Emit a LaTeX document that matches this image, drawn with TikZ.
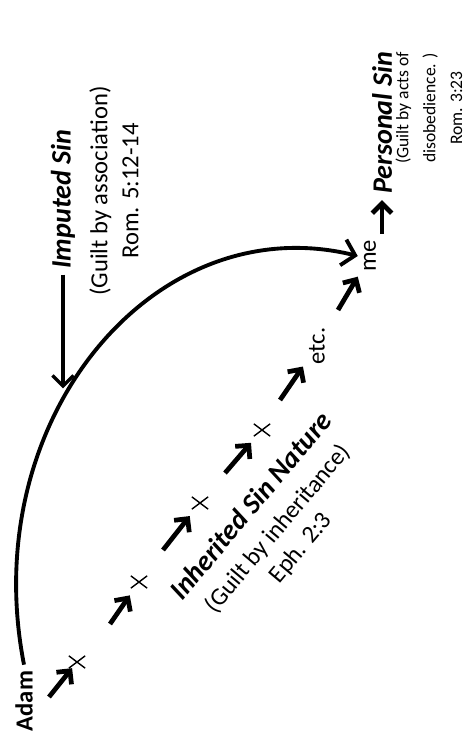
\documentclass[tikz,border=0pt]{standalone}
\usepackage{fontspec}
\setmainfont{Carlito}
\usetikzlibrary{arrows.meta,shapes.misc}

\begin{document}
\begin{tikzpicture}[x=0.02cm, y=0.02cm]
\tikzstyle{every node}+=[font=\fontsize{14}{17}\selectfont]
\tikzstyle{turned}=[rotate=90]
\tikzstyle{headline}=[font=\fontsize{16}{19}\selectfont\bfseries\itshape]
\tikzstyle{note}=[align=center, inner sep=1pt]
\tikzstyle{crossmark}=[cross out, draw, line width=0.8pt, minimum width=8.5pt, minimum height=6.2pt, inner sep=0pt]
\tikzstyle{steparrow}=[line width=2.7pt, -{Straight Barb[length=5.5pt,width=11pt]}, shorten >=5pt]
\tikzstyle{bigarrow}=[line width=2.2pt, -{Straight Barb[length=7pt,width=15pt]}]
\tikzstyle{imparrow}=[line width=1.9pt, -{Straight Barb[length=6pt,width=12pt]}]

\useasboundingbox (0,0) rectangle (464,-746);

% line of descent
\node[turned, font=\fontsize{14}{17}\selectfont\bfseries] (adam) at (24,-701) {Adam};
\node[crossmark] (x1) at (77,-662) {};
\node[crossmark] (x2) at (139,-582) {};
\node[crossmark] (x3) at (200,-503) {};
\node[crossmark] (x4) at (262,-430) {};
\node[turned] (etc) at (317,-346) {etc.};
\node[turned] (me) at (370,-256) {me};

\coordinate (s1) at (49,-697);
\coordinate (s2) at (110,-624);
\coordinate (s3) at (163,-550);
\coordinate (s4) at (225,-473);
\coordinate (s5) at (280,-400);
\coordinate (s6) at (338,-310);
\draw[steparrow, shorten >=0pt] (s1) -- (x1);
\draw[steparrow] (s2) -- (x2);
\draw[steparrow] (s3) -- (x3);
\draw[steparrow] (s4) -- (x4);
\draw[steparrow, shorten >=0pt] (s5) -- (etc);
\draw[steparrow, shorten >=0pt] (s6) -- (me);

% imputed sin
\draw[bigarrow] (adam.east) .. controls (-24,-420) and (154,-206) .. (me.north) coordinate[pos=0.4] (hit);
\node[turned, headline] (imp) at (63,-199) {Imputed Sin};
\node[turned, note, font=\fontsize{14}{17.6}\selectfont] (impnote) at (114,-191) {(Guilt by association)\\ Rom. 5:12-14};
\draw[imparrow, shorten >=7pt] (imp.west) -- (imp.west |- hit);

% inherited sin
\node[rotate=50, note] (inh) at (276,-527)
  {{\fontsize{16}{19}\selectfont\bfseries\itshape Inherited Sin Nature}\\[2pt] (Guilt by inheritance)\\ Eph. 2:3};

% personal sin
\node[turned, headline] (pers) at (382,-123) {Personal Sin};
\node[turned, note, font=\fontsize{10}{15.3}\selectfont] (persnote) at (429,-108)
  {(Guilt by acts of\\ disobedience. )\\ Rom. 3:23};
\draw[steparrow, shorten >=0pt] (pers.west |- me.east) -- (pers.west);
\end{tikzpicture}
\end{document}
